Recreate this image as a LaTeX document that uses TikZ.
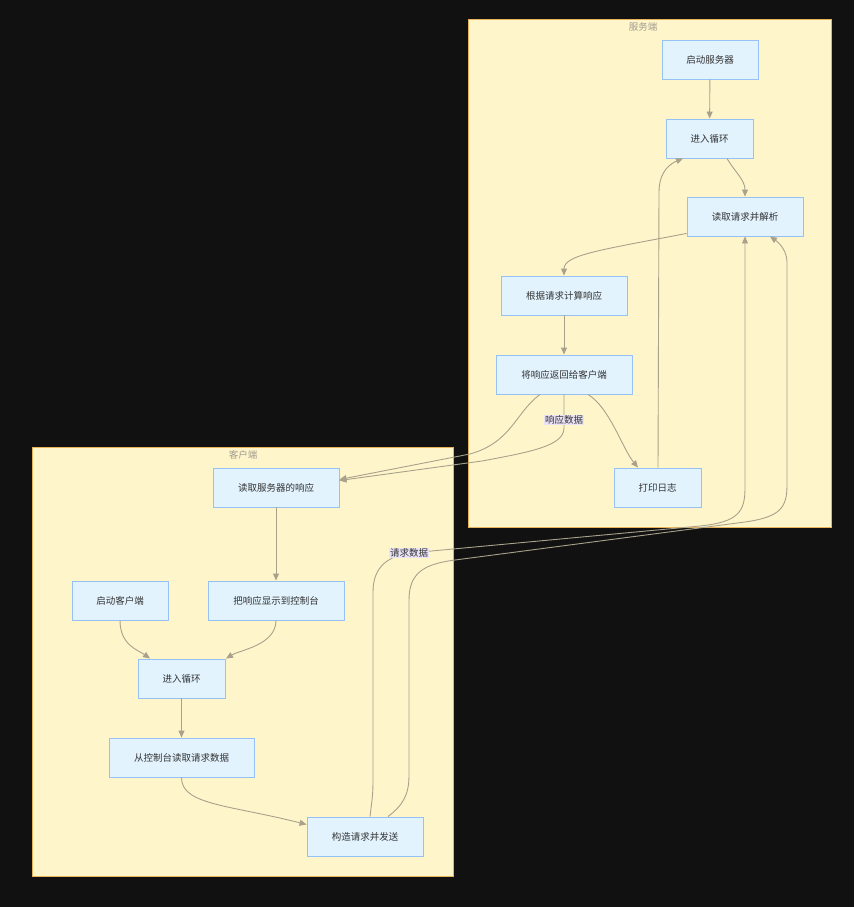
\documentclass[tikz,border=0pt]{standalone}
\usepackage{fontspec}
\newfontfamily\cjk{Noto Sans CJK SC}
\usetikzlibrary{arrows.meta,calc}
\definecolor{bgc}{HTML}{111111}
\definecolor{clfill}{HTML}{FFF5CA}
\definecolor{cldraw}{HTML}{E6B25A}
\definecolor{ndfill}{HTML}{E2F3FE}
\definecolor{nddraw}{HTML}{95C1F5}
\definecolor{txtc}{HTML}{333333}
\definecolor{edgec}{HTML}{A8A28C}
\definecolor{lblbg}{HTML}{EAE2F6}
\definecolor{cltitle}{HTML}{A09C90}
\tikzset{
  box/.style={draw=nddraw, fill=ndfill, line width=0.9pt, minimum height=39pt, inner sep=0pt,
    text=txtc, font=\cjk\fontsize{9.5}{11}\selectfont},
  cluster/.style={draw=cldraw, fill=clfill, line width=1pt},
  cltext/.style={text=cltitle, font=\cjk\fontsize{9.5}{11}\selectfont, inner sep=0pt},
  edge/.style={draw=edgec, line width=0.9pt, -{Triangle[length=7pt,width=6pt]}},
  elabel/.style={fill=lblbg, text=txtc, font=\cjk\fontsize{9.5}{11}\selectfont, inner sep=1pt}
}
\begin{document}
\begin{tikzpicture}[x=1pt,y=-1pt]
\fill[bgc] (0,0) rectangle (854,907);
\useasboundingbox (0,0) rectangle (854,907);

% clusters
\draw[cluster] (468,20) rectangle (831,527);
\node[cltext] (servtitle) at (643,27) {服务端};
\draw[cluster] (32,447) rectangle (453,876);
\node[cltext] (clititle) at (243,455) {客户端};

% server nodes
\node[box, minimum width=96pt] (sstart) at (710,59.5) {启动服务器};
\node[box, minimum width=87pt] (sloop) at (709.5,138.5) {进入循环};
\node[box, minimum width=116pt] (sread) at (745,216.5) {读取请求并解析};
\node[box, minimum width=126pt] (scalc) at (564,295.5) {根据请求计算响应};
\node[box, minimum width=136pt] (sresp) at (564,374.5) {将响应返回给客户端};
\node[box, minimum width=87pt] (slog) at (657.5,487.5) {打印日志};

% client nodes
\node[box, minimum width=126pt] (cread) at (276,487.5) {读取服务器的响应};
\node[box, minimum width=96pt] (cstart) at (120,600.5) {启动客户端};
\node[box, minimum width=136pt] (cshow) at (276,600.5) {把响应显示到控制台};
\node[box, minimum width=87pt] (cloop) at (181.5,678.5) {进入循环};
\node[box, minimum width=145pt] (cinput) at (181.5,757.5) {从控制台读取请求数据};
\node[box, minimum width=116pt] (csend) at (365,836.5) {构造请求并发送};

% server edges
\draw[edge] (sstart) -- (sloop);
\draw[edge] ([xshift=17.5pt]sloop.south) .. controls (735,172) and (745,180) .. (sread.north);
\draw[edge] ($(sread.south west)+(0,-3)$) .. controls (600,250) and (564,255) .. (scalc.north);
\draw[edge] (scalc) -- (sresp);
\draw[edge] ([xshift=-24pt]sresp.south) .. controls (515,413) and (512,442) .. (470,454) -- ([yshift=8pt]cread.east);
\draw[edge] (sresp.south) -- (564,428) .. controls (564,446) and (530,452) .. (482,461) -- ([yshift=7pt]cread.east);
\node[elabel] (lresp) at (564,420) {响应数据};
\draw[edge] ([xshift=24pt]sresp.south) .. controls (610,408) and (622,448) .. ([xshift=-19.5pt]slog.north);
\draw[edge] ([xshift=0.5pt]slog.north) -- (659,192) .. controls (659,170) and (672,163) .. ([xshift=-26.5pt]sloop.south);

% client edges
\draw[edge] (cread) -- (cshow);
\draw[edge] (cstart.south) .. controls (120,645) and (138,650) .. ([xshift=-31.5pt]cloop.north);
\draw[edge] (cshow.south) .. controls (276,645) and (240,650) .. ([xshift=44.5pt]cloop.north);
\draw[edge] (cloop) -- (cinput);
\draw[edge] (cinput.south) .. controls (181,805) and (230,805) .. ($(csend.west)+(0,-12)$);

% cross edges
\draw[edge] ([xshift=5pt]csend.north) .. controls (372,800) and (373,795) .. (373,780) -- (373,592)
  .. controls (373,565) and (390,556) .. (410,553) -- (700,526)
  .. controls (738,522) and (745,512) .. (745,488) -- (sread.south);
\node[elabel] (lreq) at (409,553) {请求数据};
\draw[edge] ([xshift=23pt]csend.north) .. controls (403,805) and (409,795) .. (409,775) -- (409,600)
  .. controls (409,572) and (425,564) .. (455,560) -- (745,522)
  .. controls (780,517) and (787,508) .. (787,485) -- (787,262)
  .. controls (787,250) and (778,242) .. ([xshift=25pt]sread.south);
\end{tikzpicture}
\end{document}
